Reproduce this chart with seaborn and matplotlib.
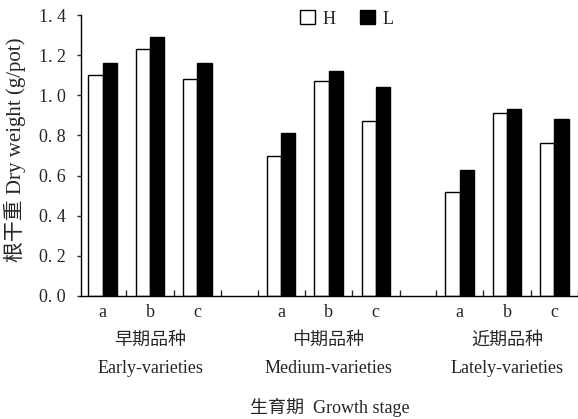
import matplotlib
matplotlib.use('Agg')
import matplotlib.pyplot as plt
import matplotlib.transforms as mtransforms
import seaborn as sns
import pandas as pd

sns.set_style('ticks')
plt.rcParams['font.family'] = ['Liberation Serif', 'Noto Sans CJK SC']

# 数据
groups_cn = ['早期品种', '中期品种', '近期品种']
groups_en = ['Early-varieties', 'Medium-varieties', 'Lately-varieties']
varieties = ['a', 'b', 'c']
h_vals = [1.10, 1.23, 1.08, 0.70, 1.07, 0.87, 0.52, 0.91, 0.76]
l_vals = [1.16, 1.29, 1.16, 0.81, 1.12, 1.04, 0.63, 0.93, 0.88]
y_ticks = [0.0, 0.2, 0.4, 0.6, 0.8, 1.0, 1.2, 1.4]

# 组间留空
group_step = 3.77
pos = [g * group_step + i for g in range(len(groups_cn)) for i in range(len(varieties))]

df = pd.DataFrame({
    'pos': pos * 2,
    'value': h_vals + l_vals,
    'treat': ['H'] * len(h_vals) + ['L'] * len(l_vals),
})

fig = plt.figure(figsize=(5.78, 4.19), dpi=100)
ax = fig.add_axes([0.140, 0.2936, 0.860, 0.6704])

sns.barplot(data=df, x='pos', y='value', hue='treat', native_scale=True,
            width=0.6, palette={'H': 'white', 'L': 'black'},
            edgecolor='black', linewidth=1, ax=ax)

ax.set_ylim(0, 1.4)
ax.set_xlim(-0.46, 10.0)
ax.set_yticks(y_ticks)
ax.set_yticklabels([f'{v:.1f}'.replace('.', '. ') for v in y_ticks], fontsize=13)
ax.tick_params(axis='y', direction='out', length=3, width=1, pad=8)

# x 轴: 品种标签 + 分隔刻度
ax.set_xticks(pos)
ax.set_xticklabels(varieties * len(groups_cn), fontsize=13)
ax.tick_params(axis='x', which='major', length=0, pad=6)
minor = []
for g in range(len(groups_cn)):
    start = g * group_step
    if g > 0:
        minor.append(start - 0.5)
    minor += [start + 0.5, start + 1.5, start + 2.5]
ax.set_xticks(minor, minor=True)
ax.tick_params(axis='x', which='minor', direction='in', length=4, width=1)

for s in ['top', 'right']:
    ax.spines[s].set_visible(False)
for s in ['left', 'bottom']:
    ax.spines[s].set_linewidth(1)
    ax.spines[s].set_color('black')

trans = mtransforms.blended_transform_factory(ax.transData, fig.transFigure)
for g in range(len(groups_cn)):
    cx = g * group_step + 1
    ax.text(cx, 1 - 340 / 419, groups_cn[g], transform=trans, ha='center', va='center', fontsize=13)
    ax.text(cx, 1 - 368 / 419, groups_en[g], transform=trans, ha='center', va='center', fontsize=13)

ax.set_xlabel('')
fig.text(0.5 * (0.14 + 1.0), 1 - 407 / 419, '生育期  Growth stage', ha='center', va='center', fontsize=13)
ax.set_ylabel('根干重 Dry weight (g/pot)', fontsize=15, va='center')
ax.yaxis.set_label_coords(-(81 - 15) / 497, 0.52)

ax.legend(frameon=False, ncol=2, loc='center', bbox_to_anchor=(0.6, 1 - 19 / 419),
          bbox_transform=fig.transFigure, fontsize=13, handlelength=0.8,
          handleheight=0.8, columnspacing=1.4, handletextpad=0.4)

fig.savefig('out.png', dpi=100)
